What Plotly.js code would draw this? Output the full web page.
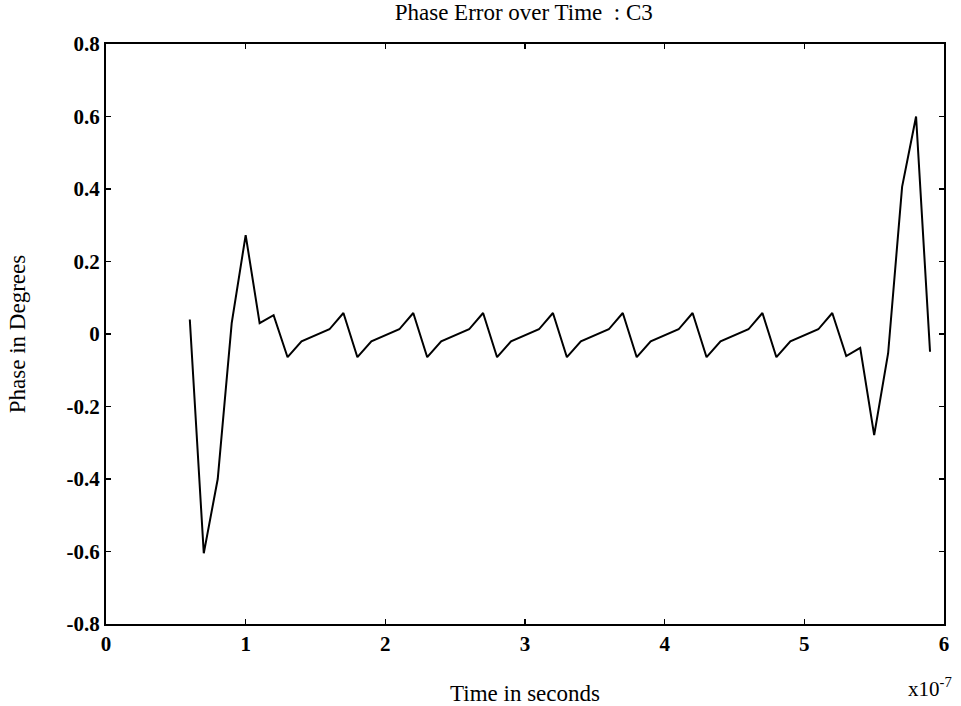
<!DOCTYPE html>
<html>
<head>
<meta charset="utf-8">
<script src="https://cdn.plot.ly/plotly-3.0.1.min.js"></script>
<style>html,body{margin:0;padding:0;background:#fff;}#chart{width:961px;height:706px;}</style>
</head>
<body>
<div id="chart"></div>
<script>
// Time in units of 1e-7 seconds
const timeValues = [0.6, 0.7, 0.8, 0.9, 1.0, 1.1, 1.2,
  1.3, 1.4, 1.5, 1.6, 1.7,
  1.8, 1.9, 2.0, 2.1, 2.2,
  2.3, 2.4, 2.5, 2.6, 2.7,
  2.8, 2.9, 3.0, 3.1, 3.2,
  3.3, 3.4, 3.5, 3.6, 3.7,
  3.8, 3.9, 4.0, 4.1, 4.2,
  4.3, 4.4, 4.5, 4.6, 4.7,
  4.8, 4.9, 5.0, 5.1, 5.2,
  5.3, 5.4, 5.5, 5.6, 5.7, 5.8, 5.9];
const phaseValues = [0.04, -0.605, -0.40, 0.03, 0.273, 0.03, 0.052,
  -0.064, -0.02, -0.003, 0.013, 0.058,
  -0.064, -0.02, -0.003, 0.013, 0.058,
  -0.064, -0.02, -0.003, 0.013, 0.058,
  -0.064, -0.02, -0.003, 0.013, 0.058,
  -0.064, -0.02, -0.003, 0.013, 0.058,
  -0.064, -0.02, -0.003, 0.013, 0.058,
  -0.064, -0.02, -0.003, 0.013, 0.058,
  -0.064, -0.02, -0.003, 0.013, 0.058,
  -0.061, -0.038, -0.279, -0.053, 0.406, 0.60, -0.049];
const xTicks = [0, 1, 2, 3, 4, 5, 6];
const yTicks = [-0.8, -0.6, -0.4, -0.2, 0, 0.2, 0.4, 0.6, 0.8];
const yTickLabels = ['-0.8', '-0.6', '-0.4', '-0.2', '0', '0.2', '0.4', '0.6', '0.8'];

const serif = 'Liberation Serif, Times New Roman, serif';

const trace = {
  x: timeValues, y: phaseValues, type: 'scatter', mode: 'lines',
  line: {color: '#000', width: 2}, hoverinfo: 'skip'
};

const layout = {
  width: 961, height: 706,
  margin: {l: 106, r: 17, t: 44, b: 82},
  paper_bgcolor: '#fff', plot_bgcolor: '#fff',
  showlegend: false,
  font: {family: serif, color: '#000'},
  title: {text: 'Phase Error over Time  : C3', font: {family: serif, size: 23, color: '#000'},
          x: 0.545, xref: 'container', xanchor: 'center', y: 0.983, yref: 'container', yanchor: 'middle'},
  xaxis: {
    range: [0, 6], tickmode: 'array', tickvals: xTicks, ticktext: xTicks.map(String),
    ticks: 'inside', ticklen: 5, tickwidth: 1.5, tickcolor: '#000',
    showline: true, linecolor: '#000', linewidth: 2, mirror: 'ticks',
    showgrid: false, zeroline: false,
    tickfont: {family: serif, size: 21, color: '#000', weight: 'bold'},
    title: {text: 'Time in seconds', font: {family: serif, size: 23, color: '#000'}, standoff: 30}
  },
  yaxis: {
    range: [-0.8, 0.8], tickmode: 'array', tickvals: yTicks, ticktext: yTickLabels,
    ticks: 'inside', ticklen: 5, tickwidth: 1.5, tickcolor: '#000',
    showline: true, linecolor: '#000', linewidth: 2, mirror: 'ticks',
    showgrid: false, zeroline: false,
    tickfont: {family: serif, size: 21, color: '#000', weight: 'bold'},
    title: {text: 'Phase in Degrees', font: {family: serif, size: 23, color: '#000'}, standoff: 34}
  },
  annotations: [{
    text: 'x10<sup>-7</sup>', xref: 'paper', yref: 'paper', x: 1.012, y: -0.11,
    xanchor: 'right', yanchor: 'middle', showarrow: false,
    font: {family: serif, size: 21, color: '#000'}
  }]
};

Plotly.newPlot('chart', [trace], layout, {staticPlot: true, displayModeBar: false});
</script>
</body>
</html>
